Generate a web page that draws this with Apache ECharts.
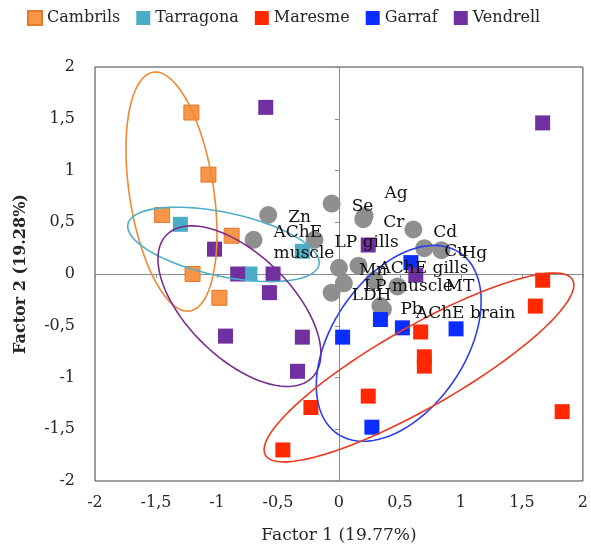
<!DOCTYPE html>
<html>
<head>
<meta charset="utf-8">
<script src="https://cdn.jsdelivr.net/npm/echarts@6/dist/echarts.min.js"></script>
<style>
  html, body { margin: 0; padding: 0; background: #fff; }
  #main { width: 591px; height: 554px; }
</style>
</head>
<body>
<div id="main"></div>
<script>
// group scores (Factor 1, Factor 2)
const groupNames = ['Cambrils', 'Tarragona', 'Maresme', 'Garraf', 'Vendrell'];
const cambrils = [[-1.21, 1.56], [-1.07, 0.96], [-1.45, 0.57], [-0.88, 0.37], [-1.20, 0.0], [-0.98, -0.23]];
const tarragona = [[-1.30, 0.48], [-0.73, 0.0], [-0.30, 0.22]];
const maresme = [[1.67, -0.06], [1.61, -0.31], [0.67, -0.56], [0.70, -0.80], [0.70, -0.89],
  [0.24, -1.18], [-0.23, -1.29], [-0.46, -1.70], [1.83, -1.33]];
const garraf = [[0.59, 0.11], [0.34, -0.44], [0.52, -0.52], [0.96, -0.53], [0.03, -0.61], [0.27, -1.48]];
const vendrell = [[-0.60, 1.61], [1.67, 1.46], [-1.02, 0.24], [-0.83, 0.0], [-0.54, 0.0], [-0.57, -0.18],
  [-0.93, -0.60], [-0.30, -0.61], [-0.34, -0.94], [0.24, 0.28], [0.63, -0.01]];

// variable loadings (grey circles)
const variableNames = ['Zn', 'AChE\nmuscle', 'LP gills', 'Se', 'Ag', 'Cr', 'Cd', 'Cu', 'Hg', 'Mn',
  'AChE gills', 'LP muscle', 'LDH', '', 'MT', 'Pb', 'AChE brain'];
const variablePoints = [[-0.58, 0.57], [-0.70, 0.33], [-0.20, 0.33], [-0.06, 0.68], [0.21, 0.56],
  [0.20, 0.53], [0.61, 0.43], [0.70, 0.25], [0.84, 0.23], [0.0, 0.06], [0.16, 0.08], [0.04, -0.09],
  [-0.06, -0.18], [0.29, -0.06], [0.48, -0.12], [0.34, -0.31], [0.36, -0.34]];

// confidence ellipses: centre x, centre y, conjugate half axes (ux, uy) and (0, vy)
const groupEllipses = [
  [-1.373, 0.796, 0.373, -0.408, 1.081],
  [-0.947, 0.286, 0.785, -0.175, 0.314],
  [-0.816, -0.311, 0.668, -0.456, 0.628],
  [0.49, -0.67, 0.676, 0.408, 0.854],
  [0.656, -0.903, 1.27, 0.796, 0.447]
];
const ellipseColors = ['#EE8A33', '#4FAFC8', '#7A2F8E', '#2C3FE6', '#EA3A22'];

const colors = ['#F79646', '#4BACC6', '#FF2800', '#0A2EFF', '#7030A0'];
const serif = '"DejaVu Serif", "Liberation Serif", serif';

// a few labels sit away from their circle
const labelShift = { 'Ag': [0, -22], 'MT': [28, 0], 'AChE brain': [13, 4] };

const chart = echarts.init(document.getElementById('main'));

const fmt = v => String(v).replace('.', ',');

const groupSeries = [cambrils, tarragona, maresme, garraf, vendrell].map((d, i) => ({
  name: groupNames[i],
  type: 'scatter',
  symbol: 'rect',
  symbolSize: 15,
  z: 3,
  itemStyle: {
    color: colors[i],
    opacity: 1,
    borderColor: i === 0 ? '#E07A2E' : colors[i],
    borderWidth: i === 0 ? 1 : 0
  },
  data: d
}));

chart.setOption({
  animation: false,
  legend: {
    data: groupNames,
    left: 22,
    top: 5,
    icon: 'rect',
    itemWidth: 14,
    itemHeight: 14,
    itemGap: 16,
    textStyle: { fontFamily: serif, fontSize: 16, color: '#262626' }
  },
  grid: {
    left: 95, right: 7, top: 67, bottom: 73,
    show: true, borderColor: '#404040', borderWidth: 1, backgroundColor: '#fff'
  },
  xAxis: [
    {
      type: 'value', min: -2, max: 2, interval: 0.5, position: 'bottom',
      axisLine: { show: false, onZero: false }, axisTick: { show: false }, splitLine: { show: false },
      axisLabel: { formatter: fmt, fontFamily: serif, fontSize: 16, color: '#262626', margin: 14 },
      name: 'Factor 1 (19.77%)', nameLocation: 'middle', nameGap: 46,
      nameTextStyle: { fontFamily: serif, fontSize: 17, color: '#262626' }
    },
    {
      type: 'value', min: -2, max: 2, interval: 0.5, position: 'bottom',
      axisLine: { show: true, onZero: true, lineStyle: { color: '#8c8c8c', width: 1 } },
      axisTick: { show: true, length: 4, lineStyle: { color: '#8c8c8c' } },
      axisLabel: { show: false }, splitLine: { show: false }
    }
  ],
  yAxis: [
    {
      type: 'value', min: -2, max: 2, interval: 0.5, position: 'left',
      axisLine: { show: false, onZero: false }, axisTick: { show: false }, splitLine: { show: false },
      axisLabel: { formatter: fmt, fontFamily: serif, fontSize: 16, color: '#262626', margin: 20 },
      name: 'Factor 2 (19.28%)', nameLocation: 'middle', nameGap: 66, nameRotate: 90,
      nameTextStyle: { fontFamily: serif, fontSize: 16, fontWeight: 'bold', color: '#262626' }
    },
    {
      type: 'value', min: -2, max: 2, interval: 0.5, position: 'left',
      axisLine: { show: true, onZero: true, lineStyle: { color: '#8c8c8c', width: 1 } },
      axisTick: { show: true, length: 4, lineStyle: { color: '#8c8c8c' } },
      axisLabel: { show: false }, splitLine: { show: false }
    }
  ],
  series: [
    {
      name: 'variables',
      type: 'scatter',
      symbol: 'circle',
      symbolSize: 18,
      z: 1,
      itemStyle: { color: '#8f8f8f', opacity: 1 },
      data: variablePoints
    },
    ...groupSeries,
    {
      name: 'ellipses',
      type: 'custom',
      z: 4,
      silent: true,
      renderItem: function (params, api) {
        const cx = api.value(0), cy = api.value(1);
        const ux = api.value(2), uy = api.value(3), vy = api.value(4);
        const pts = [];
        for (let k = 0; k <= 90; k++) {
          const t = (k / 90) * Math.PI * 2;
          pts.push(api.coord([cx + ux * Math.cos(t), cy + uy * Math.cos(t) + vy * Math.sin(t)]));
        }
        return {
          type: 'polyline',
          shape: { points: pts },
          style: { stroke: ellipseColors[params.dataIndex], lineWidth: 1.6, fill: null }
        };
      },
      data: groupEllipses
    },
    {
      name: 'variableLabels',
      type: 'scatter',
      symbol: 'circle',
      symbolSize: 0,
      z: 6,
      silent: true,
      itemStyle: { color: '#000', opacity: 1 },
      label: {
        show: true,
        position: 'right',
        distance: 20,
        fontFamily: serif,
        fontSize: 17,
        lineHeight: 21,
        color: '#111',
        opacity: 1,
        formatter: p => p.name
      },
      data: variablePoints.map((p, i) => ({
        name: variableNames[i],
        value: p,
        label: { offset: labelShift[variableNames[i]] || [0, 3] }
      }))
    }
  ]
});
</script>
</body>
</html>
